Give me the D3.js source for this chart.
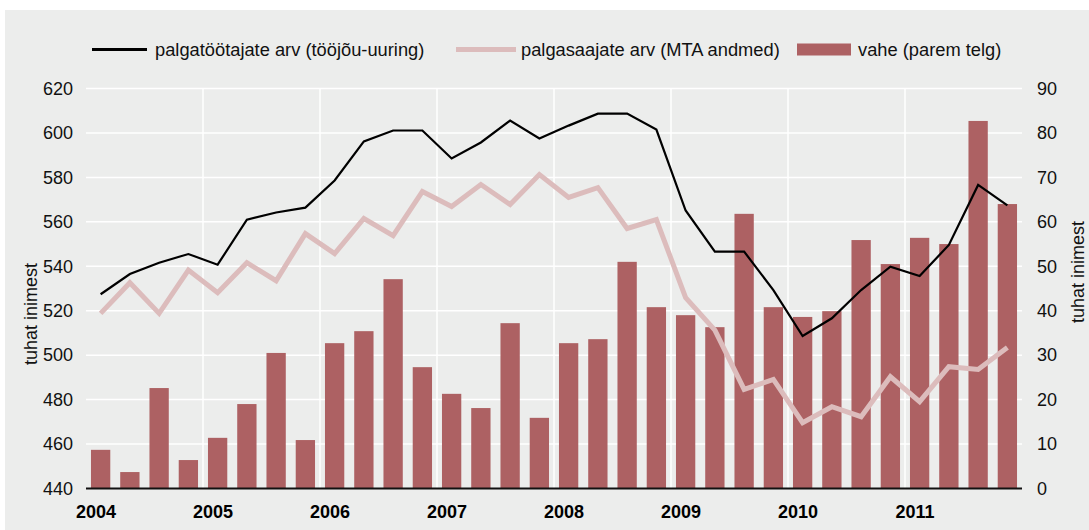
<!DOCTYPE html>
<html><head><meta charset="utf-8">
<script src="https://cdn.jsdelivr.net/npm/d3@7"></script>
<style>body{margin:0;background:#fff}svg{display:block;font-family:"Liberation Sans",Arial,Helvetica,sans-serif}</style>
</head><body><svg id="c" width="1089" height="530"></svg>
<script>
const years = ["2004","2005","2006","2007","2008","2009","2010","2011"];
const quarters = d3.range(32);
const tootajad = [527.4,536.5,541.6,545.5,540.7,561,564.2,566.4,578.6,596.2,601.1,601.1,588.5,595.7,605.6,597.5,603.3,608.7,608.7,601.5,565.1,546.6,546.6,529.3,508.6,516.6,529.3,539.8,535.6,549.6,576.6,567.4];
const saajad = [518.8,532.6,518.8,538.3,528.1,541.6,533.5,554.7,545.7,561.5,553.8,573.6,566.9,576.8,567.8,581.3,571,575.4,557,561,525.9,511.3,484.6,489.1,469.6,476.8,472.3,490.3,479.1,494.8,493.6,503.5];
const vahe = [8.7,3.7,22.6,6.4,11.4,19.0,30.5,10.9,32.7,35.4,47.1,27.3,21.3,18.1,37.2,15.9,32.7,33.6,51.0,40.8,39.0,36.3,61.8,40.8,38.6,39.9,55.9,50.5,56.4,55.0,82.7,64.0];
const leftTicks = [440,460,480,500,520,540,560,580,600,620];
const rightTicks = [0,10,20,30,40,50,60,70,80,90];
const legendLabels = ["palgatöötajate arv (tööjõu-uuring)","palgasaajate arv (MTA andmed)","vahe (parem telg)"];
const axisTitle = "tuhat inimest";

const svg = d3.select("#c");
const L=86,R=1022,T=88.5,B=488.5;
const bg="#ecedec", barC="#ad6163", pinkC="#dcbcbc";
svg.append("rect").attr("x",5).attr("y",10).attr("width",1084).attr("height",520).attr("fill",bg);

const x = d3.scaleBand().domain(quarters).range([L,R]).paddingInner(0.34).paddingOuter(0.17);
const xs = d3.scaleLinear().domain([0,32]).range([L,R]);
const yL = d3.scaleLinear().domain([440,620]).range([B,T]);
const yR = d3.scaleLinear().domain([0,90]).range([B,T]);

// grid
svg.append("g").selectAll("line").data(leftTicks.slice(1)).join("line")
  .attr("x1",L).attr("x2",R).attr("y1",d=>yL(d)).attr("y2",d=>yL(d))
  .attr("stroke","#fff").attr("stroke-width",1.5);
svg.append("g").selectAll("line").data(d3.range(1,8)).join("line")
  .attr("x1",d=>xs(d*4)).attr("x2",d=>xs(d*4)).attr("y1",T).attr("y2",B)
  .attr("stroke","#fff").attr("stroke-width",1.5);

// bars
svg.append("g").selectAll("rect").data(vahe).join("rect")
  .attr("x",(d,i)=>x(i)).attr("width",x.bandwidth())
  .attr("y",d=>yR(d)).attr("height",d=>B-yR(d)).attr("fill",barC);

// axis line
svg.append("line").attr("x1",L).attr("x2",R).attr("y1",B).attr("y2",B).attr("stroke","#111").attr("stroke-width",2);

const cx = i=>x(i)+x.bandwidth()/2;
svg.append("path").datum(saajad)
  .attr("d",d3.line().x((d,i)=>cx(i)).y(d=>yL(d)))
  .attr("fill","none").attr("stroke",pinkC).attr("stroke-width",5).attr("stroke-linejoin","miter");
svg.append("path").datum(tootajad)
  .attr("d",d3.line().x((d,i)=>cx(i)).y(d=>yL(d)))
  .attr("fill","none").attr("stroke","#000").attr("stroke-width",2.2);

// left axis
const gl = svg.append("g").attr("transform",`translate(${L-13},0)`)
  .call(d3.axisLeft(yL).tickValues(leftTicks).tickSize(0).tickPadding(0));
gl.select(".domain").remove();
gl.selectAll("text").attr("font-size",18).attr("fill","#111").attr("font-family","Liberation Sans, Arial, sans-serif");
const gr = svg.append("g").attr("transform",`translate(${R+15},0)`)
  .call(d3.axisRight(yR).tickValues(rightTicks).tickSize(0).tickPadding(0));
gr.select(".domain").remove();
gr.selectAll("text").attr("font-size",18).attr("fill","#111").attr("font-family","Liberation Sans, Arial, sans-serif");

// year labels
svg.append("g").selectAll("text").data(years).join("text")
  .attr("x",(d,i)=>xs(i*4)+10).attr("y",518).attr("text-anchor","middle")
  .attr("font-size",18).attr("font-weight","bold").attr("fill","#000").text(d=>d);

// axis titles
svg.append("text").attr("transform","translate(37,314) rotate(-90)").attr("text-anchor","middle")
  .attr("font-size",18).attr("fill","#111").text(axisTitle);
svg.append("text").attr("transform","translate(1084,272) rotate(-90)").attr("text-anchor","middle")
  .attr("font-size",18).attr("fill","#111").text(axisTitle);

// legend
const lg = svg.append("g");
lg.append("line").attr("x1",92).attr("x2",147).attr("y1",49.5).attr("y2",49.5).attr("stroke","#000").attr("stroke-width",3);
lg.append("text").attr("x",155).attr("y",56).attr("font-size",18.3).attr("fill","#111").text(legendLabels[0]);
lg.append("line").attr("x1",456).attr("x2",516).attr("y1",49.5).attr("y2",49.5).attr("stroke",pinkC).attr("stroke-width",5);
lg.append("text").attr("x",521).attr("y",56).attr("font-size",18.3).attr("fill","#111").text(legendLabels[1]);
lg.append("rect").attr("x",797).attr("y",43.5).attr("width",54).attr("height",12).attr("fill",barC);
lg.append("text").attr("x",858).attr("y",56).attr("font-size",18.3).attr("fill","#111").text(legendLabels[2]);
</script></body></html>
